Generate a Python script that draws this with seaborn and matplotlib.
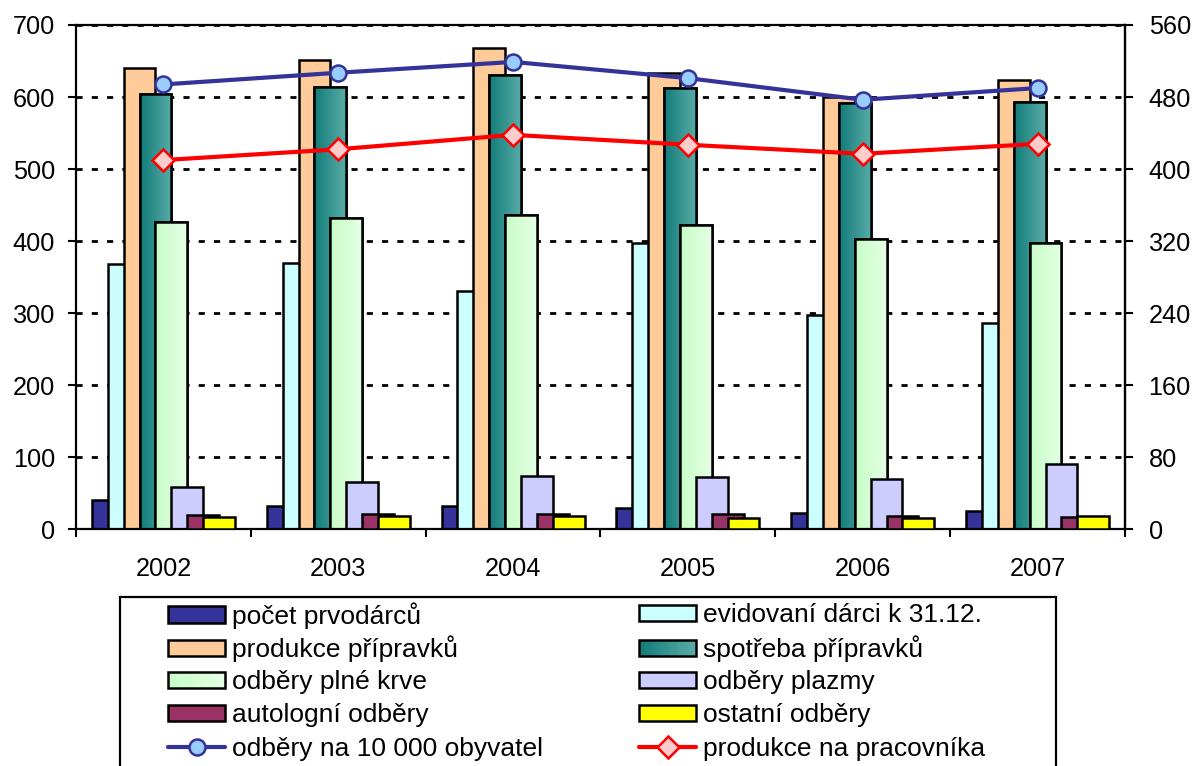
import numpy as np
import pandas as pd
import matplotlib
matplotlib.use("Agg")
import matplotlib.pyplot as plt
import seaborn as sns
from matplotlib.patches import Patch, Rectangle
from matplotlib.lines import Line2D
from matplotlib.colors import LinearSegmentedColormap, to_rgb
from matplotlib.legend_handler import HandlerBase

# ---- data -------------------------------------------------------------
years = ["2002", "2003", "2004", "2005", "2006", "2007"]

pocet_prvodarcu = [40, 33, 32, 29, 23, 26]
evidovani_darci = [368, 369, 331, 398, 297, 287]
produkce_pripravku = [640, 651, 668, 633, 600, 624]
spotreba_pripravku = [604, 614, 630, 613, 592, 593]
odbery_plne_krve = [426, 432, 436, 423, 403, 397]
odbery_plazmy = [59, 65, 74, 72, 70, 90]
autologni_odbery = [20, 21, 21, 21, 18, 17]
ostatni_odbery = [17, 18, 18, 16, 15, 18]

odbery_na_10000 = [494, 507, 519, 501, 477, 490]
produkce_na_pracovnika = [410, 422, 438, 427, 417, 428]

bar_labels = ["počet prvodárců", "evidovaní dárci k 31.12.", "produkce přípravků",
              "spotřeba přípravků", "odběry plné krve", "odběry plazmy",
              "autologní odběry", "ostatní odběry"]
line_labels = ["odběry na 10 000 obyvatel", "produkce na pracovníka"]

bar_values = [pocet_prvodarcu, evidovani_darci, produkce_pripravku, spotreba_pripravku,
              odbery_plne_krve, odbery_plazmy, autologni_odbery, ostatni_odbery]
bar_colors = ["#333399", "#ccffff", "#ffcc99", "#2a8c88",
              "#ccffcc", "#ccccff", "#993366", "#ffff00"]
# horizontal gradients for some bar fills (left colour, right colour)
gradients = {3: ("#127c79", "#58aba6"), 4: ("#c8fdc8", "#e4ffe4")}

df = pd.DataFrame({
    "rok": np.tile(years, len(bar_labels)),
    "ukazatel": np.repeat(bar_labels, len(years)),
    "hodnota": np.concatenate(bar_values),
})

EDGE_W = 1.8
TICK_FS = 18.2

# ---- style --------------------------------------------------------------
sns.set_theme(style="white")
plt.rcParams["font.family"] = ["Liberation Sans", "DejaVu Sans"]
legend_prop = {"family": ["Liberation Sans", "DejaVu Sans"], "size": 19}
leg_px = legend_prop["size"] * 100 / 72

fig = plt.figure(figsize=(11.92, 7.66), dpi=100)
ax = fig.add_axes([76 / 1192, 1 - 529.3 / 766, (1125 - 76) / 1192, (529.3 - 25) / 766])

n_series = len(bar_labels)
step = 1 / 11  # half of a bar width; bars overlap by 50 %
sns.barplot(data=df, x="rok", y="hodnota", hue="ukazatel", hue_order=bar_labels,
            palette=bar_colors, saturation=1, dodge=True, width=n_series * step,
            errorbar=None, legend=False, edgecolor="black", linewidth=EDGE_W, ax=ax)

# widen every bar to two dodge steps so neighbours overlap by half
for j, p in enumerate(ax.patches):
    s = j // len(years)
    cx = p.get_x() + p.get_width() / 2
    p.set_width(2 * step)
    p.set_x(cx - step)
    p.set_zorder(2 + 0.1 * s)
    if s in gradients:
        c0, c1 = gradients[s]
        cmap = LinearSegmentedColormap.from_list("g", [c0, c1])
        x0, y0 = p.get_x(), p.get_y()
        w, h = p.get_width(), p.get_height()
        im = ax.imshow(np.linspace(0, 1, 64).reshape(1, -1), cmap=cmap, aspect="auto",
                       extent=(x0, x0 + w, y0, y0 + h), zorder=2 + 0.1 * s + 0.01,
                       interpolation="bilinear")
        im.set_clip_path(p)
        edge = Rectangle((x0, y0), w, h, fill=False, edgecolor="black", linewidth=EDGE_W,
                         zorder=2 + 0.1 * s + 0.02)
        ax.add_patch(edge)

ax.set_xlim(-0.5, len(years) - 0.5)
ax.set_ylim(0, 700)
ax.set_yticks(np.arange(0, 701, 100))
ax.set_xlabel("")
ax.set_ylabel("")
ax.set_xticks(np.arange(-0.5, len(years), 1))
ax.set_xticklabels([])
ax.set_xticks(np.arange(len(years)), minor=True)
ax.set_xticklabels(years, minor=True)
ax.tick_params(axis="x", which="major", direction="out", length=6, width=1.5,
               bottom=True, color="black")
ax.tick_params(axis="x", which="minor", length=0, pad=20, labelsize=TICK_FS, colors="black")
ax.tick_params(axis="y", direction="out", length=6, width=1.5, left=True, pad=9,
               labelsize=TICK_FS, colors="black")
ax.yaxis.grid(True, linestyle=(0, (2.2, 3.3)), color="black", linewidth=2.0, zorder=0)
ax.set_axisbelow(True)
for sp in ax.spines.values():
    sp.set_visible(True)
    sp.set_color("black")
    sp.set_linewidth(1.6)

# ---- secondary axis lines ----------------------------------------------------
ax2 = ax.twinx()
xpos = np.arange(len(years))
blue_kw = dict(color="#333399", linewidth=3, marker="o", markersize=11.5,
               markerfacecolor="#99ccff", markeredgecolor="#333399", markeredgewidth=1.8)
red_kw = dict(color="#ff0000", linewidth=3, marker="D", markersize=10.8,
              markerfacecolor="#ffcccc", markeredgecolor="#ff0000", markeredgewidth=1.8)
sns.lineplot(x=xpos, y=odbery_na_10000, ax=ax2, zorder=5, **blue_kw)
sns.lineplot(x=xpos, y=produkce_na_pracovnika, ax=ax2, zorder=5, **red_kw)
ax2.set_ylim(0, 560)
ax2.set_yticks(np.arange(0, 561, 80))
ax2.tick_params(axis="y", direction="out", length=6, width=1.5, right=True, pad=11,
                labelsize=TICK_FS, colors="black")
ax2.grid(False)
for sp in ax2.spines.values():
    sp.set_visible(False)
ax2.spines["right"].set_visible(True)
ax2.spines["right"].set_color("black")
ax2.spines["right"].set_linewidth(1.6)


# ---- legend -----------------------------------------------------------------
class GradientPatchHandler(HandlerBase):
    """Legend key drawn as a box with a left-to-right colour gradient."""

    def __init__(self, c0, c1, slices=24):
        super().__init__()
        self.c0, self.c1, self.slices = np.array(to_rgb(c0)), np.array(to_rgb(c1)), slices

    def create_artists(self, legend, orig_handle, xdescent, ydescent, width, height,
                       fontsize, trans):
        arts = []
        dw = width / self.slices
        for k in range(self.slices):
            t = k / (self.slices - 1)
            col = self.c0 * (1 - t) + self.c1 * t
            arts.append(Rectangle((-xdescent + k * dw, -ydescent), dw * 1.05, height,
                                  facecolor=col, edgecolor="none", transform=trans))
        arts.append(Rectangle((-xdescent, -ydescent), width, height, fill=False,
                              edgecolor="black", linewidth=1.8, transform=trans))
        return arts


bar_handles = [Patch(facecolor=c, edgecolor="black", linewidth=1.8) for c in bar_colors]
line_handles = [Line2D([], [], **blue_kw), Line2D([], [], **red_kw)]
all_handles = bar_handles + line_handles
all_labels = bar_labels + line_labels
handler_map = {bar_handles[s]: GradientPatchHandler(*gradients[s]) for s in gradients}

leg_kw = dict(loc="center left", frameon=False, borderpad=0, borderaxespad=0,
              handlelength=57 / leg_px, handleheight=15 / leg_px,
              handletextpad=7 / leg_px, prop=legend_prop, handler_map=handler_map)
# entries laid out row by row in two columns
col_x = [168, 639]
row_y0, row_pitch = 615.5, 33.3
for i, (h, lab) in enumerate(zip(all_handles, all_labels)):
    r, c = divmod(i, 2)
    yc = row_y0 + r * row_pitch
    leg = fig.legend([h], [lab], bbox_to_anchor=(col_x[c] / 1192, 1 - yc / 766), **leg_kw)
    for t in leg.get_texts():
        t.set_color("black")

frame = Rectangle((120 / 1192, -0.1), (1056 - 120) / 1192, 1 - 597 / 766 + 0.1,
                  transform=fig.transFigure, fill=False, edgecolor="black",
                  linewidth=1.6, clip_on=False)
fig.add_artist(frame)

fig.savefig("out.png", dpi=100, facecolor="white")
